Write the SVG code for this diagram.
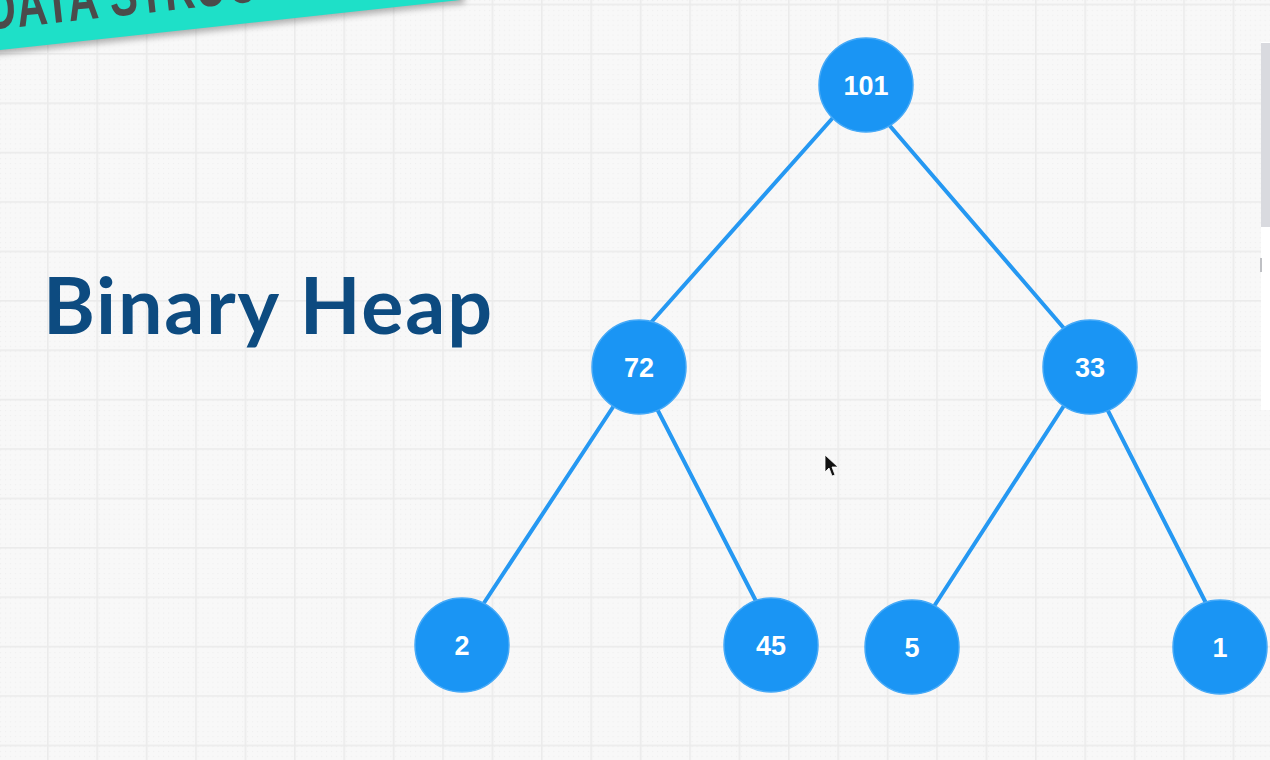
<svg xmlns="http://www.w3.org/2000/svg" width="1270" height="760" viewBox="0 0 1270 760">
<defs>
<style>
.node circle{fill:#1a95f4;stroke:#45a9f7;stroke-width:1.5}
.node text{fill:#ffffff;font-family:"Liberation Sans",Arial,sans-serif;font-weight:bold;font-size:27px;text-anchor:middle}
.edge{stroke:#2598f2;stroke-width:4;stroke-linecap:round}
.title{fill:#0d4b80;font-family:Lato,"Open Sans",sans-serif;font-weight:bold;font-size:79px}
</style>
<pattern id="minor" x="0" y="0" width="4.94" height="4.94" patternUnits="userSpaceOnUse">
<rect x="0" y="0" width="1.2" height="1.2" fill="#efefef"/>
</pattern>
<pattern id="major" x="-2.4" y="3.6" width="49.4" height="49.4" patternUnits="userSpaceOnUse">
<rect x="0" y="0" width="49.4" height="1.6" fill="#ebebeb"/>
<rect x="0" y="0" width="1.6" height="49.4" fill="#ebebeb"/>
</pattern>
<filter id="sh" x="-10%" y="-50%" width="120%" height="200%">
<feGaussianBlur stdDeviation="3"/>
</filter>
</defs>
<rect width="1270" height="760" fill="#f8f8f8"/>
<rect width="1270" height="760" fill="url(#minor)"/>
<rect width="1270" height="760" fill="url(#major)"/>
<rect x="1261" y="42" width="9" height="368" fill="#ffffff"/>
<rect x="1261" y="43" width="9" height="184" fill="#d9dadf"/>
<rect x="1260" y="258" width="2" height="14" fill="#bfc0c4"/>
<g id="banner" transform="rotate(-6.2 0 50)">
<rect x="-20" y="-60" width="485" height="110" fill="#555" opacity="0.45" filter="url(#sh)" transform="translate(2 4)"/>
<rect x="-20" y="-60" width="485" height="110" fill="#1ee0c8"/>
<text x="-15" y="29" font-family="'Liberation Sans',Arial,sans-serif" font-weight="bold" font-size="62" fill="#4b4b4b" transform="scale(0.68 1)" letter-spacing="1">DATA STRUCTURES</text>
</g>
<text class="title" x="43" y="334" textLength="449" lengthAdjust="spacing">Binary Heap</text>
<g id="connectors">
<line class="edge" x1="838" y1="112" x2="647" y2="327"/>
<line class="edge" x1="884" y1="119" x2="1068" y2="333"/>
<line class="edge" x1="617" y1="401" x2="480" y2="609"/>
<line class="edge" x1="654" y1="403" x2="759" y2="607"/>
<line class="edge" x1="1067" y1="401" x2="931" y2="611"/>
<line class="edge" x1="1103" y1="401" x2="1209" y2="609"/>
</g>
<g id="n101" class="node"><circle cx="866" cy="85" r="47"/><text x="866" y="95">101</text></g>
<g id="n72" class="node"><circle cx="639" cy="367" r="47"/><text x="639" y="377">72</text></g>
<g id="n33" class="node"><circle cx="1090" cy="367" r="47"/><text x="1090" y="377">33</text></g>
<g id="n2" class="node"><circle cx="462" cy="645" r="47"/><text x="462" y="655">2</text></g>
<g id="n45" class="node"><circle cx="771" cy="645" r="47"/><text x="771" y="655">45</text></g>
<g id="n5" class="node"><circle cx="912" cy="647" r="47"/><text x="912" y="657">5</text></g>
<g id="n1" class="node"><circle cx="1220" cy="647" r="47"/><text x="1220" y="657">1</text></g>
<path d="M825 455 L825 472 L829 468 L832 476 L835 475 L832 467 L838 467 Z" fill="#111" stroke="#fff" stroke-width="0.8"/>
</svg>
